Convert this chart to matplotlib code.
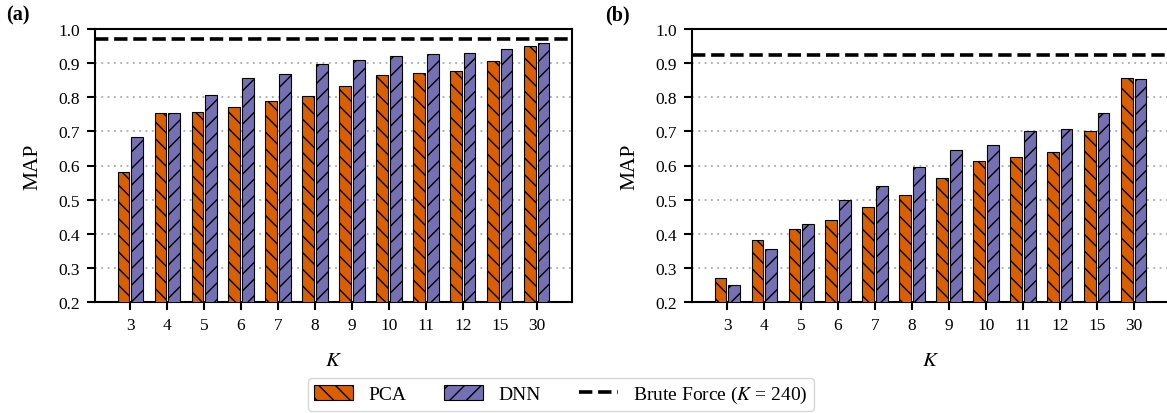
import matplotlib
matplotlib.use("Agg")
import matplotlib.pyplot as plt
import numpy as np
from matplotlib.patches import Patch
from matplotlib.lines import Line2D

categories = ["3", "4", "5", "6", "7", "8", "9", "10", "11", "12", "15", "30"]

pca_a = [0.580, 0.753, 0.758, 0.771, 0.790, 0.805, 0.833, 0.866, 0.871, 0.876, 0.905, 0.951]
dnn_a = [0.683, 0.755, 0.806, 0.856, 0.868, 0.898, 0.909, 0.920, 0.927, 0.929, 0.940, 0.959]
brute_a = 0.972

pca_b = [0.271, 0.382, 0.414, 0.441, 0.478, 0.513, 0.563, 0.614, 0.626, 0.639, 0.702, 0.856]
dnn_b = [0.250, 0.355, 0.428, 0.500, 0.541, 0.595, 0.644, 0.661, 0.701, 0.707, 0.755, 0.853]
brute_b = 0.924

plt.rcParams['font.family'] = ['Liberation Serif', 'DejaVu Serif']
plt.rcParams['mathtext.fontset'] = 'stix'
plt.rcParams['hatch.linewidth'] = 1.0

C_PCA = '#D95F02'
C_DNN = '#7570B3'

W, H = 1167, 414
fig = plt.figure(figsize=(W / 100, H / 100), dpi=100)

def make_ax(left_px, right_px, pca, dnn, brute, label, label_x):
    ax = fig.add_axes([left_px / W, (H - 303) / H, (right_px - left_px) / W, 273 / H])
    x = np.arange(len(categories))
    bw = 0.32
    ax.bar(x - 0.18, pca, width=bw, bottom=0, color=C_PCA, edgecolor='black',
           linewidth=0.8, hatch='\\\\', zorder=3)
    ax.bar(x + 0.18, dnn, width=bw, bottom=0, color=C_DNN, edgecolor='black',
           linewidth=0.8, hatch='//', zorder=3)
    ax.axhline(brute, color='black', linestyle='--', linewidth=2.6, zorder=4)
    ax.set_xlim(-0.95, 11.95)
    ax.set_ylim(0.2, 1.0)
    ax.set_yticks(np.arange(0.2, 1.01, 0.1))
    ax.set_yticklabels([f"{v:.1f}" for v in np.arange(0.2, 1.01, 0.1)])
    ax.set_xticks(x)
    ax.set_xticklabels(categories)
    ax.yaxis.grid(True, linestyle=(0, (1, 2.5)), color='#aaaaaa', linewidth=1.3, zorder=0)
    ax.set_axisbelow(True)
    for s in ax.spines.values():
        s.set_linewidth(1.5)
    ax.tick_params(axis='both', length=6, width=1.5, labelsize=12.5, pad=5)
    ax.set_ylabel('MAP', fontsize=15.5, labelpad=11)
    ax.set_xlabel('$K$', fontsize=15, labelpad=13)
    fig.text(label_x / W, 1 - 15 / H, label, fontsize=14.5, fontweight='bold',
             ha='left', va='center')
    return ax

ax1 = make_ax(95, 572, pca_a, dnn_a, brute_a, '(a)', 6)
ax2 = make_ax(692, 1169, pca_b, dnn_b, brute_b, '(b)', 605)

handles = [
    Patch(facecolor=C_PCA, edgecolor='black', hatch='\\\\', linewidth=0.8, label='PCA'),
    Patch(facecolor=C_DNN, edgecolor='black', hatch='//', linewidth=0.8, label='DNN'),
    Line2D([0], [0], color='black', linestyle='--', linewidth=2.6,
           label='Brute Force ($K$ = 240)'),
]
leg = fig.legend(handles=handles, loc='lower center', ncol=3,
                 bbox_to_anchor=(561 / W, -0.018), fontsize=14, frameon=True,
                 handlelength=2.0, handleheight=0.8, handletextpad=0.8,
                 columnspacing=1.95, borderpad=0.3, fancybox=True)
leg.get_frame().set_edgecolor('#cccccc')
leg.get_frame().set_linewidth(1.0)

fig.savefig('out.png', dpi=100)
